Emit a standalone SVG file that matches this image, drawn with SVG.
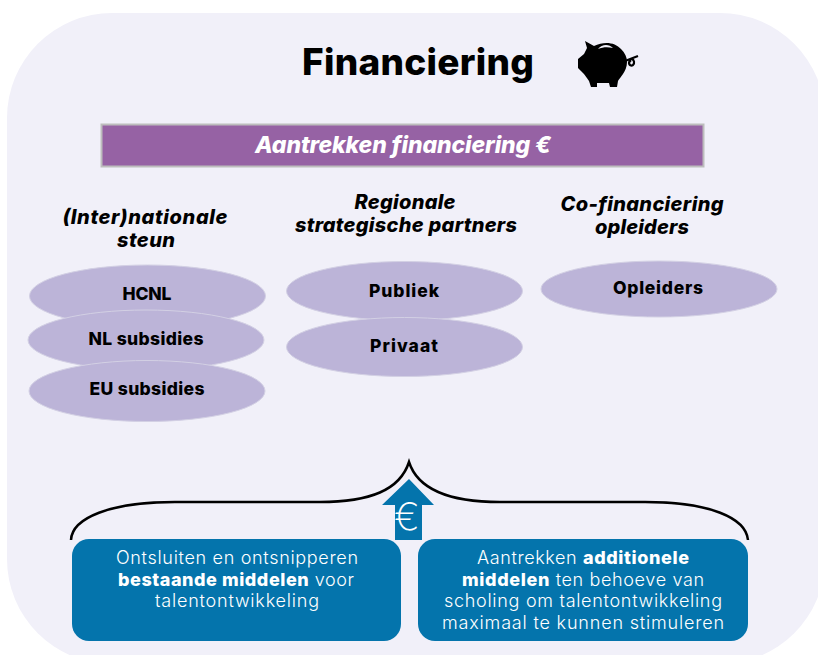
<svg xmlns="http://www.w3.org/2000/svg" width="818" height="655" viewBox="0 0 818 655">
<style>
text{font-family:"Inter","Liberation Sans",sans-serif;text-anchor:middle;fill:#000}
.h{font-size:20px;font-weight:800;font-style:italic}
.o{font-size:17.500px;font-weight:800}
.b{font-size:18px;font-weight:300;fill:#fff}
.b tspan.s{font-weight:800}
.e{fill:#bcb4d8;stroke:#d3d0e4;stroke-width:1}
</style>
<rect width="818" height="655" fill="#fff"/>
<rect x="7" y="13" width="818" height="651" rx="105" fill="#f1f0f9"/>
<g id="title"><text x="418" y="75" font-size="37" font-weight="800" textLength="232">Financiering</text></g>
<g id="piggy"><path d="M585 41L594 46C604 41 615 42 621 49C625 53 627 57 627 62C627 67 625 71 623 74C621 77 619 79 618 81L617 87H610L609 83H597L597 87H591L589 81C586 77 585 75 583 73L578 68V59L584 54L587 48Z" fill="#000"/><path d="M598 49C602 44 609 44 613 48C608 47 603 47 598 49Z" fill="#f1f0f9"/><path d="M625 61L638 56M631 60C627 63 630 67 633 65C635 63 634 60 632 59" fill="none" stroke="#000" stroke-width="2.200"/></g>
<g id="banner"><rect x="101.500" y="124.500" width="602" height="42" fill="#9662a4" stroke="#bdbdbd" stroke-width="2"/><text x="403" y="153" font-size="23" font-weight="800" font-style="italic" style="fill:#fff" textLength="296">Aantrekken financiering €</text></g>
<g id="col1"><text class="h" x="145" y="224" textLength="165">(Inter)nationale</text><text class="h" x="146" y="247" textLength="58">steun</text></g>
<g id="col2"><text class="h" x="405" y="209" textLength="101">Regionale</text><text class="h" x="406" y="232" textLength="222">strategische partners</text></g>
<g id="col3"><text class="h" x="642" y="211" textLength="163">Co-financiering</text><text class="h" x="642" y="234" textLength="94">opleiders</text></g>
<g id="hcnl"><ellipse class="e" cx="147.500" cy="296" rx="118" ry="31"/><text class="o" x="147" y="300" textLength="49">HCNL</text></g>
<g id="nl"><ellipse class="e" cx="146" cy="340" rx="118" ry="30"/><text class="o" x="146" y="345" textLength="115">NL subsidies</text></g>
<g id="eu"><ellipse class="e" cx="147" cy="391" rx="118" ry="30.500"/><text class="o" x="147" y="395" textLength="115">EU subsidies</text></g>
<g id="publiek"><ellipse class="e" cx="404.500" cy="291" rx="118" ry="29.500"/><text class="o" x="404" y="297" textLength="70">Publiek</text></g>
<g id="privaat"><ellipse class="e" cx="404.500" cy="347" rx="118" ry="29.500"/><text class="o" x="404" y="352" textLength="68">Privaat</text></g>
<g id="opleiders"><ellipse class="e" cx="659" cy="289" rx="118" ry="28"/><text class="o" x="658" y="294" textLength="90">Opleiders</text></g>
<g id="connectors">
<path d="M71 540C72 518 110 502 175 502H320C370 502 400 490 409 462C418 490 450 502 500 502H645C710 502 746 518 748 540" fill="none" stroke="#000" stroke-width="2.500"/>
</g>
<g id="arrow"><path d="M409 479L434 505H422V540H395V505H382Z" fill="#0474ac"/><text x="407" y="530" font-size="38" font-weight="200" style="fill:#fff">€</text></g>
<g id="left"><rect x="72" y="539" width="329" height="102" rx="17" fill="#0474ac"/><text class="b" x="237" y="564" textLength="242">Ontsluiten en ontsnipperen</text><text class="b" x="236" y="586" textLength="236"><tspan class="s">bestaande middelen</tspan> voor</text><text class="b" x="237" y="607" textLength="164">talentontwikkeling</text></g>
<g id="right"><rect x="418" y="539" width="330" height="102" rx="17" fill="#0474ac"/><text class="b" x="583" y="564" textLength="212">Aantrekken <tspan class="s">additionele</tspan></text><text class="b" x="583" y="586" textLength="242"><tspan class="s">middelen</tspan> ten behoeve van</text><text class="b" x="583" y="607" textLength="278">scholing om talentontwikkeling</text><text class="b" x="583" y="629" textLength="282">maximaal te kunnen stimuleren</text></g>
</svg>
